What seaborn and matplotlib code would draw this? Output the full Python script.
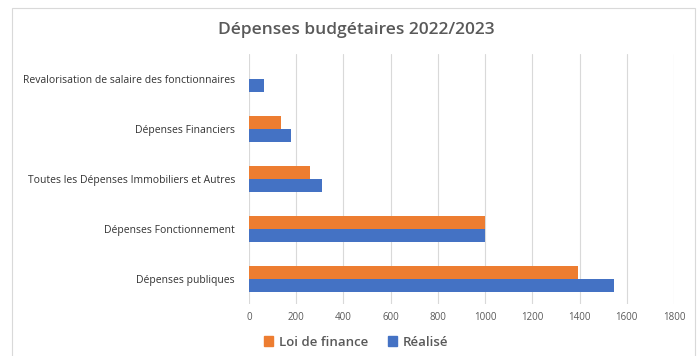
import matplotlib
matplotlib.use("Agg")
import matplotlib.pyplot as plt
import seaborn as sns
import pandas as pd
import numpy as np
from matplotlib.patches import Rectangle

categories = [
    "Revalorisation de salaire des fonctionnaires",
    "Dépenses Financiers",
    "Toutes les Dépenses Immobiliers et Autres",
    "Dépenses Fonctionnement",
    "Dépenses publiques",
]
loi_de_finance = [np.nan, 135, 260, 1000, 1395]
realise = [65, 177, 311, 1000, 1545]
series_names = ["Loi de finance", "Réalisé"]
colors = ["#ED7D31", "#4472C4"]
xticks = list(range(0, 1801, 200))

df = pd.DataFrame({
    "Catégorie": categories * 2,
    "Série": [series_names[0]] * len(categories) + [series_names[1]] * len(categories),
    "Valeur": loi_de_finance + realise,
})

sns.set_theme(style="white")
plt.rcParams["font.family"] = ["Open Sans", "DejaVu Sans"]

fig = plt.figure(figsize=(6.99, 3.56), dpi=100)
ax = fig.add_axes([249 / 699, 1 - 304 / 356, (674 - 249) / 699, 250 / 356])

sns.barplot(data=df, y="Catégorie", x="Valeur", hue="Série", hue_order=series_names,
            order=categories, palette=colors, orient="h", width=0.52, ax=ax,
            saturation=1, legend=False, gap=0, linewidth=0, edgecolor="none")

ax.set_xlim(0, 1800)
ax.set_xticks(xticks)
ax.set_xticklabels([str(t) for t in xticks], fontsize=7, color="#595959")
ax.tick_params(axis="y", labelsize=7.5, colors="#333333", length=0, pad=10)
ax.tick_params(axis="x", length=0, pad=6)
ax.set_xlabel("")
ax.set_ylabel("")
ax.grid(axis="x", color="#D9D9D9", linewidth=0.8)
ax.set_axisbelow(True)
for s in ax.spines.values():
    s.set_visible(False)

fig.text(356 / 699, 1 - 30 / 356, "Dépenses budgétaires 2022/2023", ha="center", va="center",
         fontsize=12.5, color="#595959", fontweight="semibold")

handles = [Rectangle((0, 0), 1, 1, color=c) for c in colors]
fig.legend(handles, series_names, loc="center", bbox_to_anchor=(356 / 699, 1 - 342 / 356),
           ncol=2, frameon=False, handlelength=0.7, handleheight=0.7,
           columnspacing=1.5, handletextpad=0.4, labelcolor="#595959",
           prop={"weight": "semibold", "size": 9.5})

fig.patches.append(Rectangle((12 / 699, -0.01), (695 - 12) / 699, 1 - 8 / 356 + 0.01,
                             transform=fig.transFigure, fill=False, edgecolor="#D9D9D9",
                             linewidth=0.8))

fig.savefig("out.png", dpi=100)
